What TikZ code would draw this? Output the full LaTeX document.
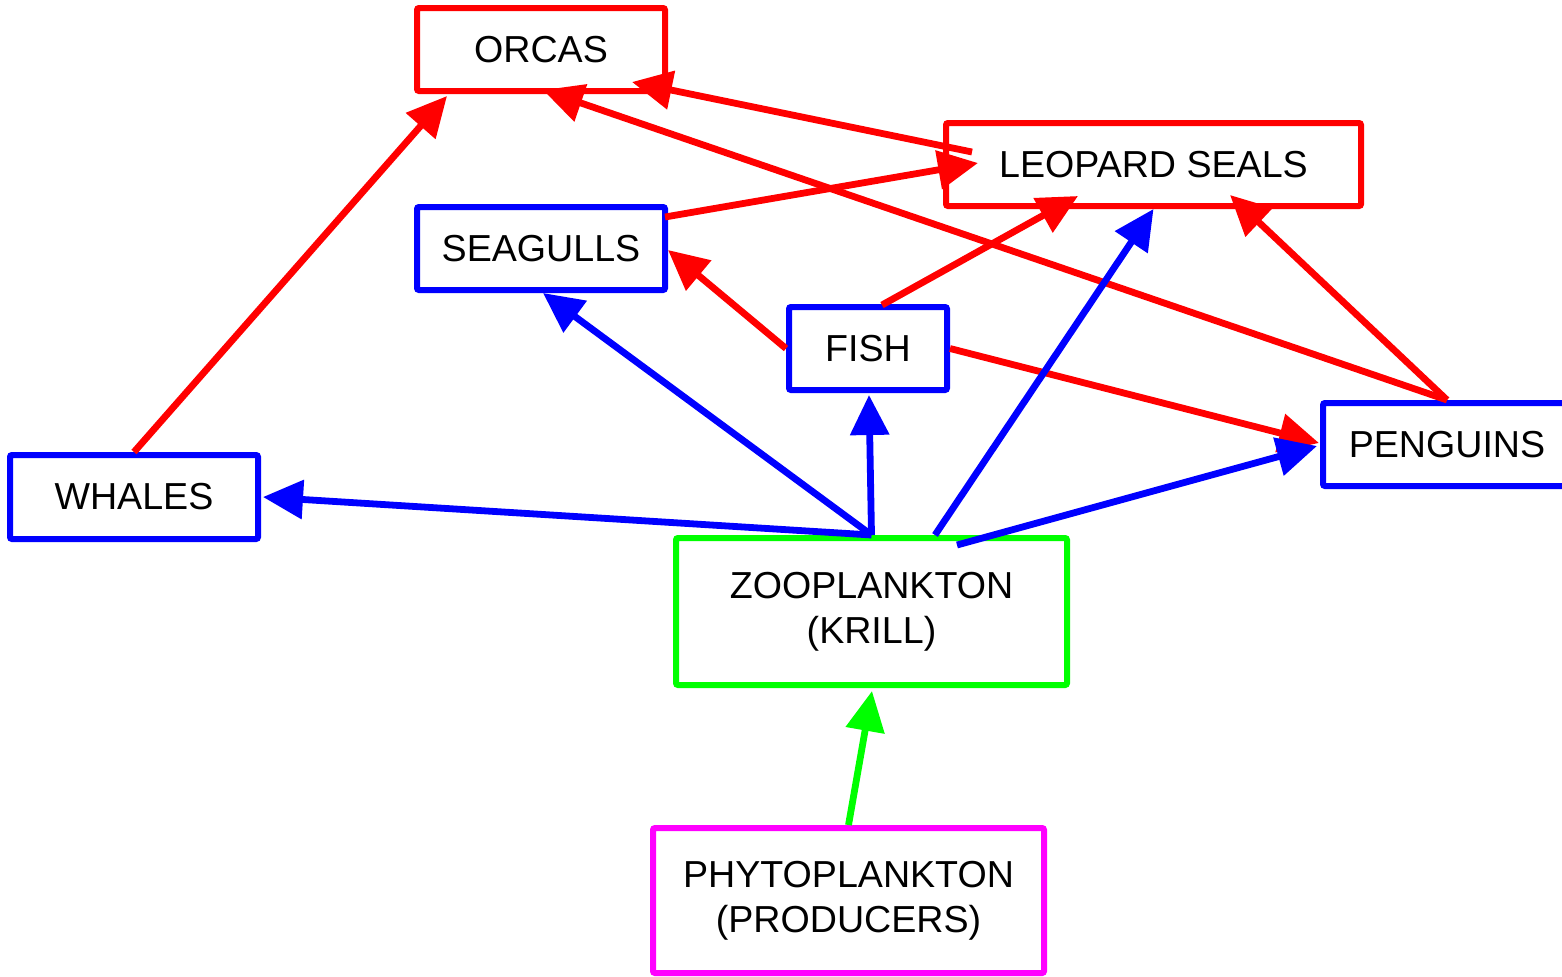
\documentclass[tikz,border=0pt]{standalone}
\usepackage{fontspec}
\setmainfont{Liberation Sans}
\usetikzlibrary{arrows.meta,calc}
\definecolor{cred}{RGB}{255,0,0}
\definecolor{cblue}{RGB}{0,0,255}
\definecolor{cgreen}{RGB}{0,255,0}
\definecolor{cmag}{RGB}{255,0,255}
\tikzset{
  box/.style={draw, line width=3pt, rounded corners=1pt, fill=white, text=black, align=center,
    font=\fontsize{18.8}{22.5}\selectfont, inner sep=0pt},
  small/.style={box, minimum width=124pt, minimum height=41.5pt},
  arr/.style={line width=3.4pt, -{Triangle[length=20pt,width=19pt]}},
}
\begin{document}
\begin{tikzpicture}[x=0.5pt,y=-0.5pt]
\useasboundingbox (0,0) rectangle (1562,976);
\node[small, draw=cred] (orcas) at (541,49.5) {ORCAS};
\node[box, draw=cred, minimum width=207.5pt, minimum height=41.5pt] (leopard) at (1153.5,164.5) {LEOPARD SEALS};
\node[small, draw=cblue] (seagulls) at (541,248.5) {SEAGULLS};
\node[box, draw=cblue, minimum width=79pt, minimum height=41.5pt] (fish) at (868,348.5) {FISH};
\node[small, draw=cblue, minimum height=42pt] (whales) at (134,497) {WHALES};
\node[small, draw=cblue] (penguins) at (1447,444.5) {PENGUINS};
\node[box, draw=cgreen, minimum width=195.5pt, minimum height=73.5pt] (zoo) at (871.5,611.5) {ZOOPLANKTON\\(KRILL)};
\node[box, draw=cmag, minimum width=195.5pt, minimum height=72.5pt] (phyto) at (848.5,900.5) {PHYTOPLANKTON\\(PRODUCERS)};
% red arrows
\draw[arr, cred] (whales.north) -- ($(orcas.center)+(-94,46.5)$);
\draw[arr, cred] ($(leopard.center)+(-181.5,-12.5)$) -- ($(orcas.center)+(91,32.5)$);
\draw[arr, cred] (penguins.north) -- ($(orcas.center)+(2,40.5)$);
\draw[arr, cred] ($(seagulls.center)+(124,-31.5)$) -- ($(leopard.center)+(-175.5,-1.5)$);
\draw[arr, cred] ($(fish.center)+(14,-43.5)$) -- ($(leopard.center)+(-75.5,31.5)$);
\draw[arr, cred] (penguins.north) -- ($(leopard.center)+(76.5,30.5)$);
\draw[arr, cred] (fish.west) -- ($(seagulls.east)+(0,1.5)$);
\draw[arr, cred] (fish.east) -- ($(penguins.west)+(-1,-1.5)$);
% blue arrows
\draw[arr, cblue] (zoo.north) -- ($(whales.east)+(2,0)$);
\draw[arr, cblue] (zoo.north) -- ($(seagulls.south)+(2,0)$);
\draw[arr, cblue] (zoo.north) -- ($(fish.south)+(1,2)$);
\draw[arr, cblue] ($(zoo.center)+(63.5,-76.5)$) -- (leopard.south);
\draw[arr, cblue] ($(zoo.center)+(85.5,-66.5)$) -- ($(penguins.west)+(-3,1.5)$);
% green arrow
\draw[arr, cgreen] (phyto.north) -- ($(zoo.south)+(0.5,3)$);
\end{tikzpicture}
\end{document}
